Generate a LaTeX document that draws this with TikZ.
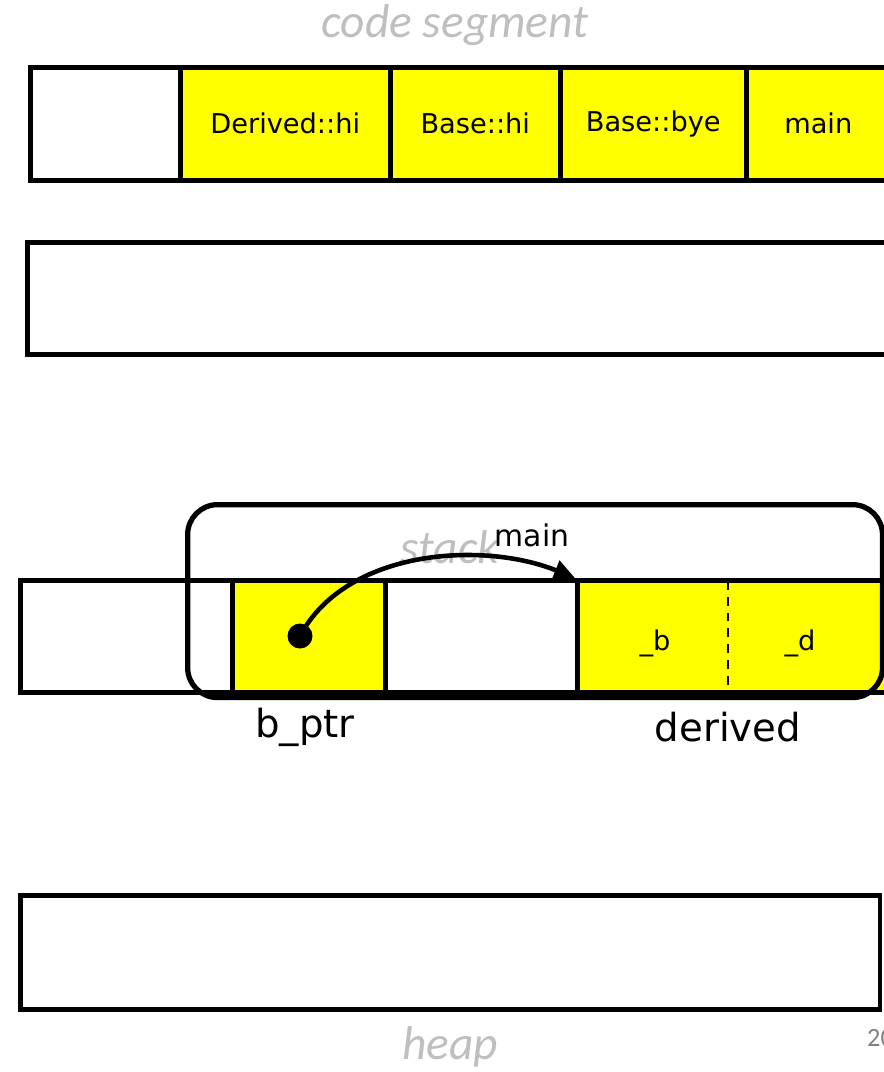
\documentclass[tikz,border=0pt]{standalone}
\usepackage{fontspec}
\setmainfont{DejaVu Sans}
\newfontfamily\segfont{Carlito}
\usetikzlibrary{positioning, arrows.meta}

\definecolor{cellyellow}{RGB}{255,255,0}
\definecolor{seggray}{RGB}{191,191,191}
\definecolor{pagegray}{RGB}{128,128,128}

\begin{document}
\begin{tikzpicture}[
        x=0.02cm, y=-0.02cm,
        cell/.style={draw, line width=2.6pt, inner sep=0pt, anchor=north west, minimum height=2.26cm, font=\fontsize{15.5}{18}\selectfont},
        full/.style={cell, fill=cellyellow},
        segname/.style={text=seggray, font=\segfont\itshape\fontsize{27}{32}\selectfont},
        varname/.style={font=\fontsize{22}{26}\selectfont},
        frame/.style={draw, line width=3pt, rounded corners=0.6cm, anchor=north west, inner sep=0pt},
        pointer/.style={-{Triangle[length=0.42cm, width=0.4cm]}, line width=2.6pt}
    ]
        \useasboundingbox (0,0) rectangle (884,1072);
        \clip (0,0) rectangle (884,1072);

        % Code segment
        \node[segname] (codename) at (455,25) {code segment};
        \node[cell, minimum width=3cm] (code0) at (28,65) {};
        \node[full, minimum width=4.2cm] (dhi) at (178,65) {Derived::hi};
        \node[full, minimum width=3.4cm] (bhi) at (388,65) {Base::hi};
        \node[full, minimum width=3.72cm] (bbye) at (558,65) {Base::bye};
        \node[full, minimum width=2.88cm] (mainfn) at (744,65) {main};

        % Globals
        \node[cell, minimum width=17.4cm, minimum height=2.24cm] (globals) at (25,240) {};

        % Stack
        \node[segname] (stackname) at (450,547) {stack};
        \node[cell, minimum width=4.24cm, minimum height=2.24cm] (stack0) at (18,578) {};
        \node[full, minimum width=3.06cm, minimum height=2.24cm] (bptr) at (230,578) {};
        \node[cell, minimum width=3.84cm, minimum height=2.24cm] (stack2) at (383,578) {};
        \node[full, minimum width=6.4cm, minimum height=2.24cm] (derived) at (575,578) {};
        \draw[dash pattern=on 5pt off 4pt, line width=1.4pt] (728,581) -- (728,687);
        \node[font=\fontsize{15.5}{18}\selectfont] (fieldb) at (655,643) {\_b};
        \node[font=\fontsize{15.5}{18}\selectfont] (fieldd) at (800,643) {\_d};

        % Frame of main
        \node[frame, minimum width=13.9cm, minimum height=3.86cm] (mainframe) at (185,502) {};
        \node[font=\fontsize{17}{20}\selectfont] (framename) at (532,535) {main};

        % Pointer
        \node[circle, fill, inner sep=0pt, minimum size=0.5cm] (dot) at (300,636) {};
        \draw[pointer] (dot.center) to[out=62, in=158, looseness=0.9] (derived.north west);

        \node[varname] (bptrname) at (305,727) {b\_ptr};
        \node[varname] (derivedname) at (728,727) {derived};

        % Heap
        \node[cell, minimum width=17.2cm, minimum height=2.28cm] (heap) at (18,893) {};
        \node[segname] (heapname) at (450,1047) {heap};
        \node[text=pagegray, font=\segfont\fontsize{15}{18}\selectfont, anchor=west] (pagenum) at (861,1038) {20};
\end{tikzpicture}
\end{document}
